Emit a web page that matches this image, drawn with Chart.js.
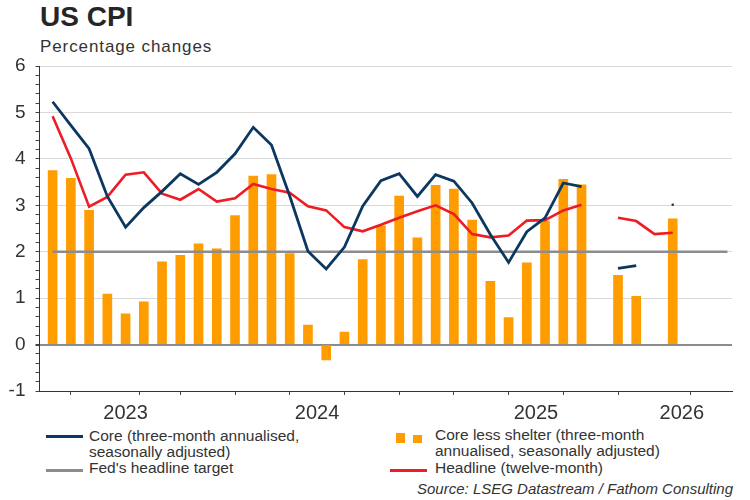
<!DOCTYPE html>
<html>
<head>
<meta charset="utf-8">
<script src="https://cdn.jsdelivr.net/npm/chart.js@4.4.1/dist/chart.umd.min.js"></script>
<style>
  body { margin: 0; background: #fff; font-family: "Liberation Sans", Arial, sans-serif; color: #262626; }
  #page { position: relative; width: 750px; height: 500px; overflow: hidden; }
  #chartBox { position: absolute; left: 0; top: 0; width: 750px; height: 425px; }
  .txt { position: absolute; white-space: nowrap; }
  .sw { position: absolute; height: 3px; width: 37px; }
  .bar { position: absolute; background: #ff9c00; width: 9px; }
</style>
</head>
<body>
<div id="page">
  <div class="txt" style="left:40px; top:3px; font-size:28px; line-height:28px; font-weight:bold;">US CPI</div>
  <div class="txt" style="left:40px; top:38px; font-size:17px; line-height:17px; letter-spacing:0.9px; color:#333;">Percentage changes</div>
  <div id="chartBox"><canvas id="cpiChart"></canvas></div>

  <!-- legend -->
  <div class="sw" style="left:46px; top:435px; background:#0b3761;"></div>
  <div class="txt" style="left:89px; top:428px; font-size:15.5px; line-height:16px; color:#333;">Core (three-month annualised,<br>seasonally adjusted)</div>
  <div class="sw" style="left:46px; top:469px; background:#8c8c8c;"></div>
  <div class="txt" style="left:89px; top:460px; font-size:15.5px; line-height:16px; color:#333;">Fed's headline target</div>

  <div class="bar" style="left:396px; top:433px; height:10px;"></div>
  <div class="bar" style="left:413px; top:435px; height:8px;"></div>
  <div class="txt" style="left:435px; top:427px; font-size:15.5px; line-height:16px; color:#333;">Core less shelter (three-month<br>annualised, seasonally adjusted)</div>
  <div class="sw" style="left:390px; top:469px; background:#ee1c25;"></div>
  <div class="txt" style="left:435px; top:460px; font-size:15.5px; line-height:16px; color:#333;">Headline (twelve-month)</div>

  <div class="txt" style="right:17px; top:481px; font-size:15px; line-height:16px; font-style:italic; color:#333;">Source: LSEG Datastream / Fathom Consulting</div>
</div>

<script>
// months on the axis, Apr 2023 to May 2026
const months = ["Apr 2023", "May 2023", "Jun 2023", "Jul 2023", "Aug 2023", "Sep 2023", "Oct 2023", "Nov 2023", "Dec 2023",
  "Jan 2024", "Feb 2024", "Mar 2024", "Apr 2024", "May 2024", "Jun 2024", "Jul 2024", "Aug 2024", "Sep 2024", "Oct 2024", "Nov 2024", "Dec 2024",
  "Jan 2025", "Feb 2025", "Mar 2025", "Apr 2025", "May 2025", "Jun 2025", "Jul 2025", "Aug 2025", "Sep 2025", "Oct 2025", "Nov 2025", "Dec 2025",
  "Jan 2026", "Feb 2026", "Mar 2026", "Apr 2026", "May 2026"];

// series, Apr 2023 to Feb 2026 (null = no data)
const coreLessShelter = [3.75, 3.58, 2.89, 1.09, 0.66, 0.92, 1.78, 1.92, 2.17,
  2.06, 2.78, 3.63, 3.66, 1.96, 0.42, -0.33, 0.27, 1.83, 2.56, 3.20, 2.30,
  3.43, 3.35, 2.68, 1.36, 0.58, 1.76, 2.66, 3.56, 3.44, null, 1.49, 1.04,
  null, 2.71];
const core = [5.23, 4.72, 4.22, 3.19, 2.53, 2.95, 3.30, 3.68, 3.45,
  3.71, 4.11, 4.68, 4.30, 3.20, 2.01, 1.63, 2.10, 2.98, 3.53, 3.68, 3.19,
  3.66, 3.52, 3.05, 2.37, 1.77, 2.43, 2.73, 3.48, 3.40, null, 1.64, 1.70,
  null, 3.01];
const headline = [4.92, 4.01, 2.97, 3.18, 3.66, 3.71, 3.25, 3.12, 3.35,
  3.08, 3.15, 3.46, 3.35, 3.27, 2.98, 2.89, 2.53, 2.44, 2.58, 2.73, 2.87,
  3.00, 2.81, 2.38, 2.31, 2.35, 2.67, 2.68, 2.89, 3.01, null, 2.73, 2.66,
  2.38, 2.41];
const fedTarget = [2, 2, 2, 2, 2, 2, 2, 2, 2, 2, 2, 2, 2, 2, 2, 2, 2, 2, 2,
  2, 2, 2, 2, 2, 2, 2, 2, 2, 2, 2, 2, 2, 2, 2, 2, 2, 2, 2];

// x-axis: quarter tick marks and year labels (positions are month indexes)
const quarterTicks = [-0.5, 2.5, 5.5, 8.5, 11.5, 14.5, 17.5, 20.5, 23.5, 26.5, 29.5, 32.5, 35.5];
const yearLabels = { "4": "2023", "14.5": "2024", "26.5": "2025", "34.5": "2026" };

function points(values) {
  return values.map((v, i) => ({ x: i, y: v }));
}

// show a dot only where a value has no neighbours to join with
function lonePoint(values) {
  return function (ctx) {
    const i = ctx.dataIndex;
    return values[i] != null && values[i - 1] == null && values[i + 1] == null ? 1.3 : 0;
  };
}

function tickValue(ctx) {
  return ctx.tick ? ctx.tick.value : null;
}

new Chart("cpiChart", {
  type: 'bar',
  data: {
    datasets: [
      {
        type: 'line',
        label: 'Core (three-month annualised, seasonally adjusted)',
        data: points(core),
        borderColor: '#0b3761',
        backgroundColor: '#0b3761',
        borderWidth: 2.8,
        pointRadius: lonePoint(core),
        pointBorderWidth: 0,
        tension: 0,
        order: 0
      },
      {
        type: 'line',
        label: 'Headline (twelve-month)',
        data: points(headline),
        borderColor: '#ee1c25',
        backgroundColor: '#ee1c25',
        borderWidth: 2.6,
        pointRadius: lonePoint(headline),
        pointBorderWidth: 0,
        tension: 0,
        order: 1
      },
      {
        type: 'line',
        label: "Fed's headline target",
        data: points(fedTarget),
        borderColor: '#8c8c8c',
        borderWidth: 2.6,
        pointRadius: 0,
        order: 2
      },
      {
        label: 'Core less shelter (three-month annualised, seasonally adjusted)',
        data: points(coreLessShelter),
        backgroundColor: '#ff9c00',
        barThickness: 9,
        order: 3
      }
    ]
  },
  options: {
    responsive: true,
    maintainAspectRatio: false,
    animation: false,
    layout: { padding: { top: 66, right: 18, left: 0, bottom: 0 } },
    plugins: {
      legend: { display: false },
      tooltip: { enabled: false }
    },
    scales: {
      x: {
        type: 'linear',
        min: -0.72,
        max: 37.25,
        offset: false,
        afterBuildTicks: function (scale) {
          const vals = quarterTicks.concat([4, 34.5]).sort((a, b) => a - b);
          scale.ticks = vals.map(v => ({ value: v }));
        },
        afterFit: function (scale) { scale.height = 34; },
        ticks: {
          autoSkip: false,
          maxRotation: 0,
          padding: 6,
          color: '#333',
          font: { family: "'Liberation Sans', Arial, sans-serif", size: 20 },
          callback: function (value) { return yearLabels[String(value)] || ''; }
        },
        grid: {
          drawOnChartArea: false,
          drawTicks: true,
          tickLength: 4,
          tickColor: function (ctx) {
            return quarterTicks.includes(tickValue(ctx)) ? '#444' : 'rgba(0,0,0,0)';
          }
        },
        border: { display: true, color: '#333', width: 1 }
      },
      y: {
        min: -1,
        max: 6,
        afterBuildTicks: function (scale) {
          const t = [];
          for (let k = -10; k <= 60; k += 2) t.push({ value: k / 10 });
          scale.ticks = t;
        },
        afterFit: function (scale) { scale.width = 39.5; },
        ticks: {
          autoSkip: false,
          padding: 10,
          color: '#333',
          font: { family: "'Liberation Sans', Arial, sans-serif", size: 19 },
          callback: function (value) { return Number.isInteger(value) ? String(value) : ''; }
        },
        grid: {
          tickLength: 4,
          tickColor: '#444',
          color: function (ctx) {
            const v = tickValue(ctx);
            if (v === 0) return '#8c8c8c';
            if (Number.isInteger(v) && v > -1) return '#d9d9d9';
            return 'rgba(0,0,0,0)';
          },
          lineWidth: function (ctx) { return tickValue(ctx) === 0 ? 2 : 1; }
        },
        border: { display: true, color: '#333', width: 1 }
      }
    }
  }
});
</script>
</body>
</html>
